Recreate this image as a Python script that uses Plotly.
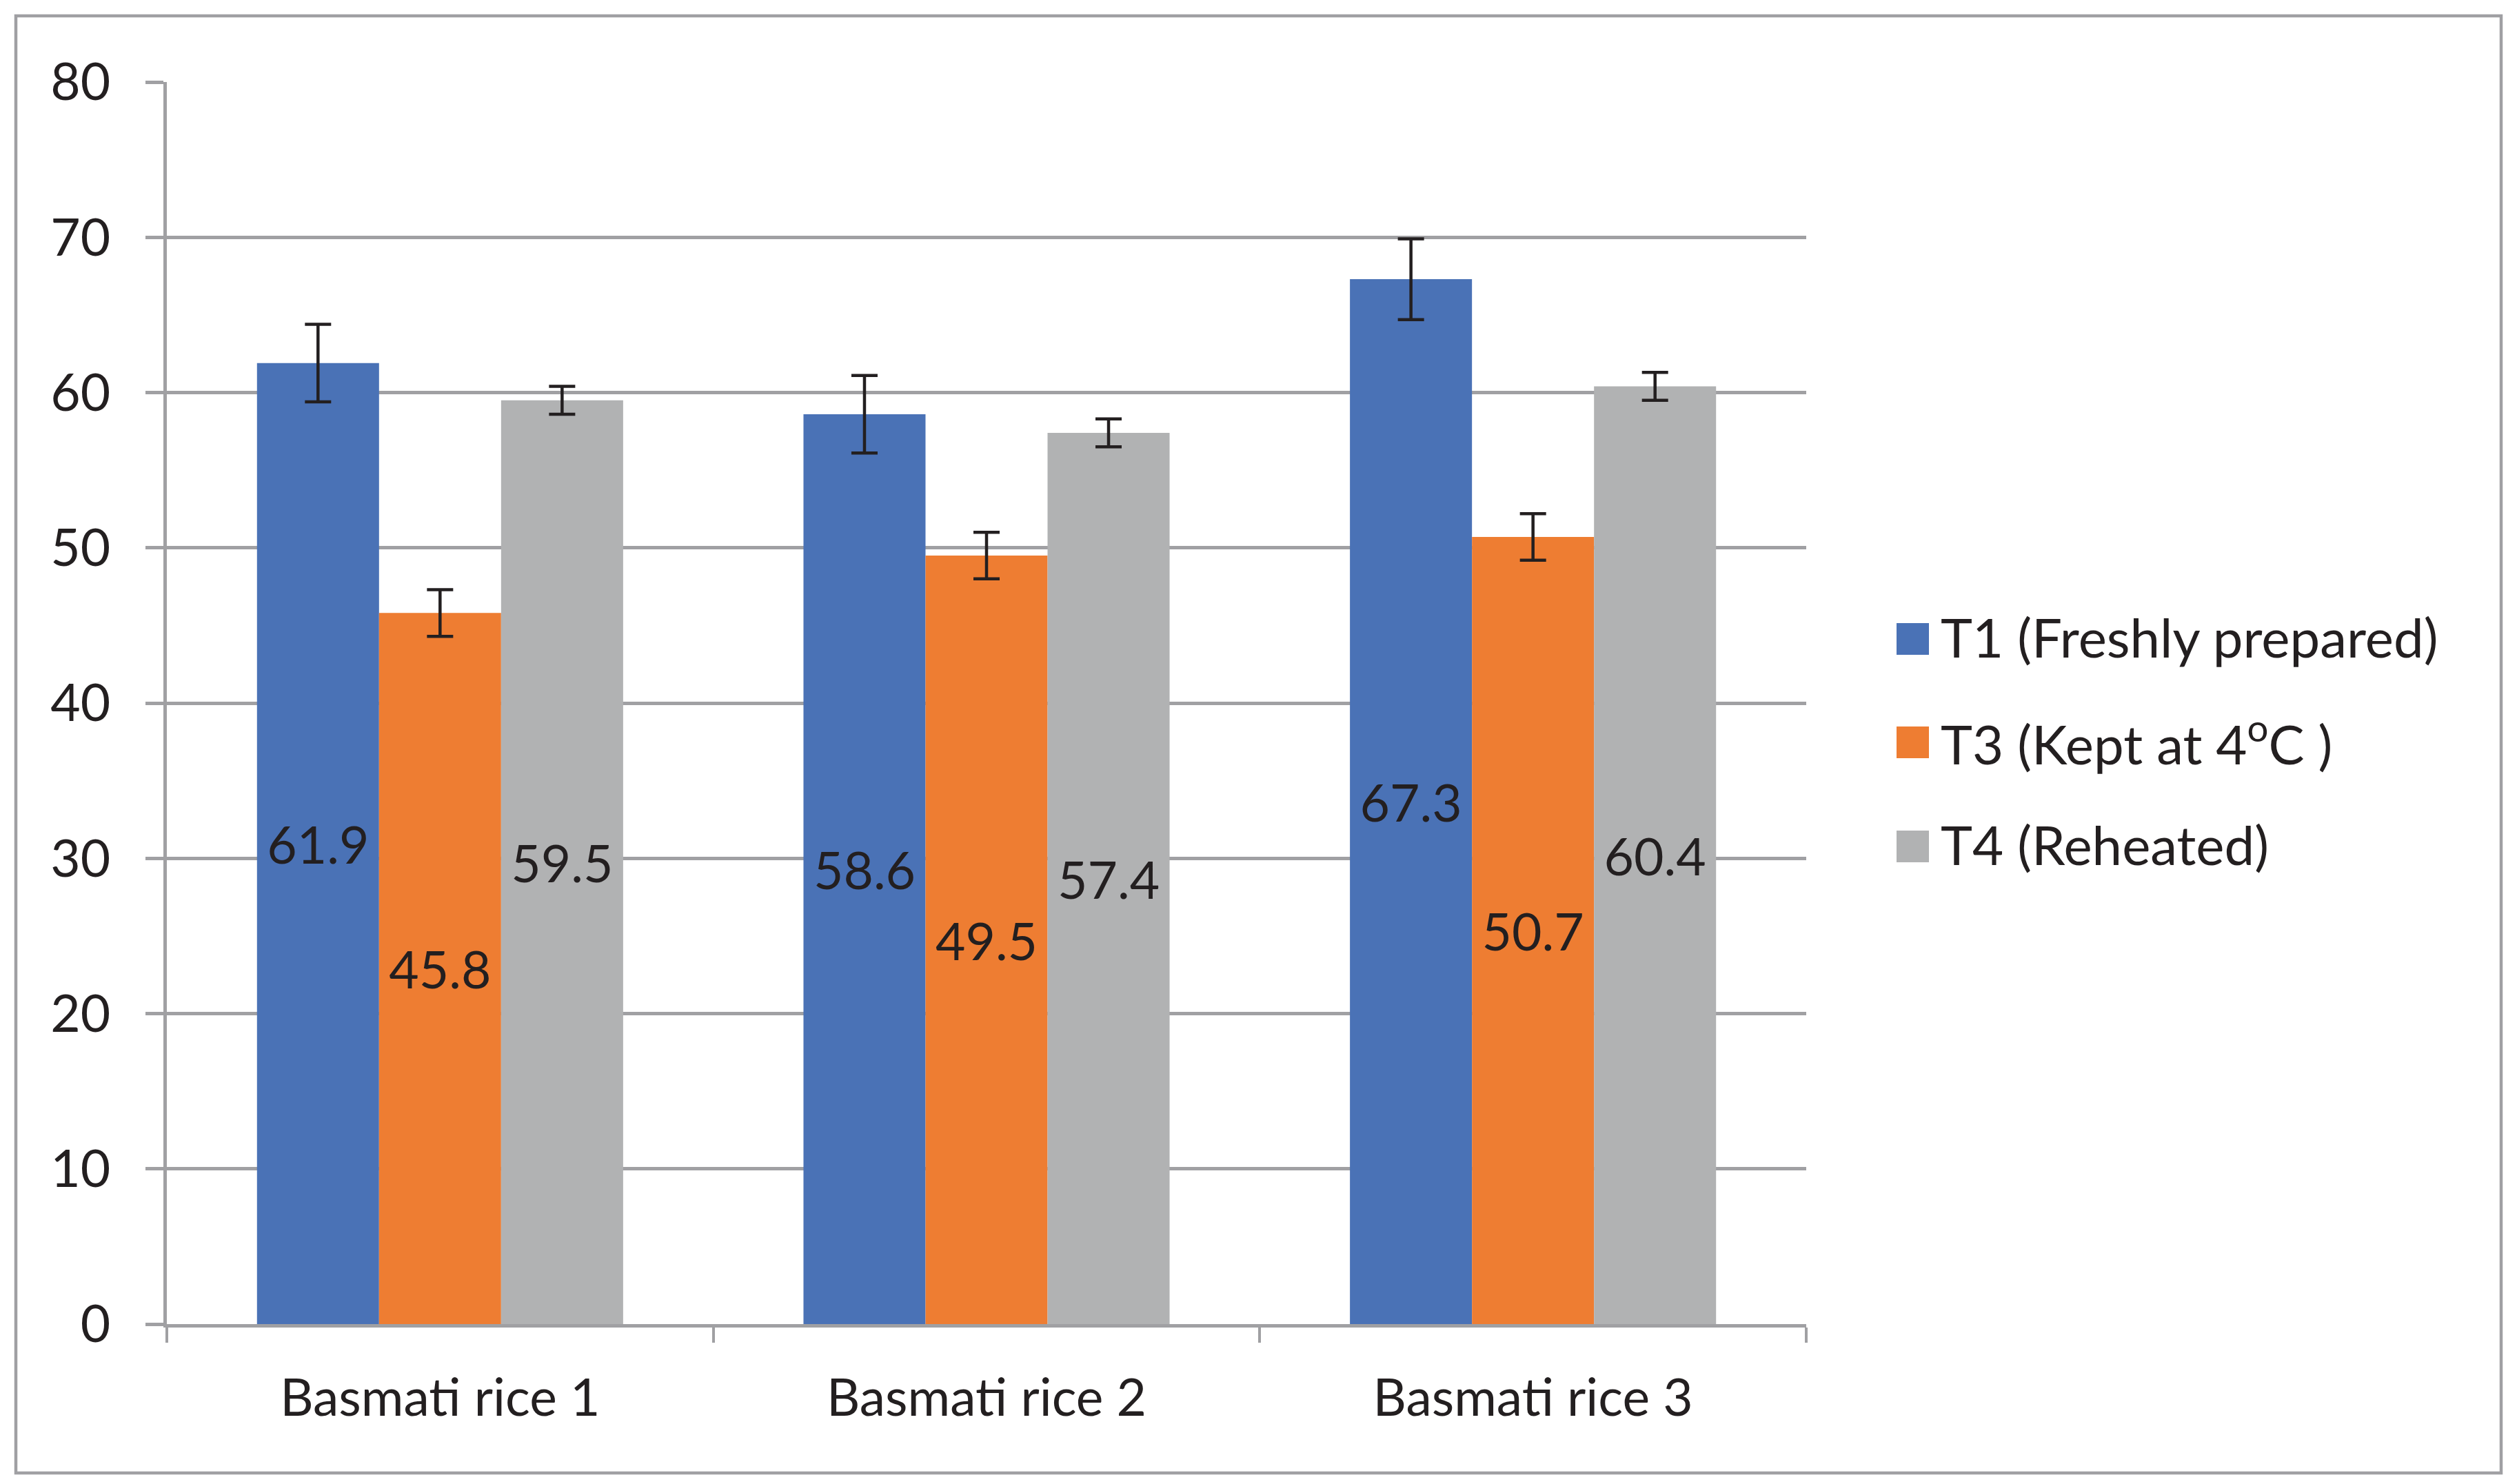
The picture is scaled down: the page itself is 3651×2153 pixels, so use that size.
import plotly.graph_objects as go

categories = ["Basmati rice 1", "Basmati rice 2", "Basmati rice 3"]
series_names = ["T1 (Freshly prepared)", "T3 (Kept at 4<sup>o</sup>C )", "T4 (Reheated)"]
t1_values = [61.9, 58.6, 67.3]
t3_values = [45.8, 49.5, 50.7]
t4_values = [59.5, 57.4, 60.4]
t1_err = [2.5, 2.5, 2.6]
t3_err = [1.5, 1.5, 1.5]
t4_err = [0.9, 0.9, 0.9]
y_ticks = [0, 10, 20, 30, 40, 50, 60, 70, 80]

colors = ["#4A72B6", "#EE7D32", "#B1B2B3"]
grid_col = "#A0A0A3"
txt_col = "#231F20"
FONT = "Lato"
FS = 75

OFF = 8  # default page body margin
PW, PH = 3651, 2153
W, H = PW - 2 * OFF, PH - 2 * OFF
# plot area in page pixels
PL, PR, PT, PB = 242, 2620, 119, 1921
L = PL - OFF
T = PT - OFF
R = W - (PR - OFF)
B = H - (PB - OFF)
pw, ph = W - L - R, H - T - B

fig = go.Figure()
for name, vals, errs, col in zip(series_names, [t1_values, t3_values, t4_values],
                                  [t1_err, t3_err, t4_err], colors):
    fig.add_trace(go.Bar(
        x=categories, y=vals, name=name, marker=dict(color=col, line=dict(width=0)),
        error_y=dict(type="data", array=errs, visible=True, color=txt_col,
                     thickness=4.5, width=19),
        text=[f"{v:.1f}" for v in vals], textposition="inside",
        insidetextanchor="middle", textangle=0,
        textfont=dict(family=FONT, size=FS, color=txt_col),
        showlegend=False,
    ))

fig.update_layout(
    width=W, height=H,
    margin=dict(l=L, r=R, t=T, b=B, autoexpand=False),
    paper_bgcolor="white", plot_bgcolor="white",
    barmode="group", bargap=0.33, bargroupgap=0,
    font=dict(family=FONT, size=FS, color=txt_col),
    xaxis=dict(
        showgrid=False, showline=True, linecolor=grid_col, linewidth=4.5,
        ticks="outside", tickson="boundaries", ticklen=22, tickwidth=4,
        tickcolor=grid_col, ticklabelstandoff=38,
        tickfont=dict(family=FONT, size=FS, color=txt_col),
    ),
    yaxis=dict(
        range=[0, 80], tickvals=y_ticks, showgrid=True, gridcolor=grid_col,
        gridwidth=4.5, zeroline=False, showline=True, linecolor=grid_col,
        linewidth=4.5, ticks="outside", ticklen=26, tickwidth=4.5,
        tickcolor=grid_col, ticklabelstandoff=36,
        tickfont=dict(family=FONT, size=FS, color=txt_col),
    ),
)

def px_x(px):
    return (px - PL) / pw

def px_y(py):
    return (PB - py) / ph

# outer chart border
fig.add_shape(type="rect", xref="paper", yref="paper",
              x0=px_x(23), x1=px_x(3628), y0=px_y(2137), y1=px_y(23),
              line=dict(color=grid_col, width=4.5), fillcolor="rgba(0,0,0,0)", layer="below")

# legend (manual, to match large swatches)
row_centers = [927, 1077, 1228]
for name, col, yc in zip(series_names, colors, row_centers):
    fig.add_shape(type="rect", xref="paper", yref="paper",
                  x0=px_x(2751), x1=px_x(2798), y0=px_y(yc + 23), y1=px_y(yc - 23),
                  line=dict(width=0), fillcolor=col)
    fig.add_annotation(xref="paper", yref="paper", x=px_x(2813), y=px_y(yc - 3),
                       text=name, showarrow=False, xanchor="left", yanchor="middle",
                       font=dict(family=FONT, size=FS + 3, color=txt_col))

fig.write_html("out.html")
